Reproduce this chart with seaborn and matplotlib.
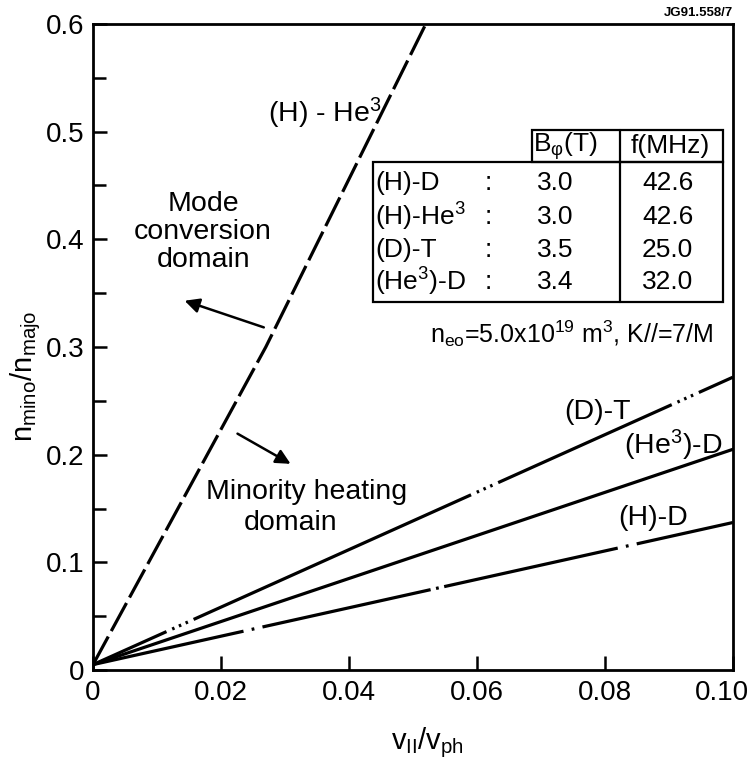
import matplotlib
matplotlib.use("Agg")
import matplotlib.pyplot as plt
import matplotlib.transforms as mtransforms
import numpy as np
import pandas as pd
import seaborn as sns
from matplotlib.patches import Rectangle, FancyArrowPatch
from matplotlib.lines import Line2D

# ---------------- data ----------------
he3_x = [0.0, 0.027, 0.052]
he3_y = [0.005, 0.300, 0.600]
lin_x = [0.0, 0.10]
dt_y = [0.005, 0.272]
he3d_y = [0.005, 0.205]
hd_y = [0.005, 0.137]

x_ticks = [0.0, 0.02, 0.04, 0.06, 0.08, 0.10]
x_tick_labels = ["0", "0.02", "0.04", "0.06", "0.08", "0.10"]
y_ticks = [0.0, 0.1, 0.2, 0.3, 0.4, 0.5, 0.6]
y_tick_labels = ["0", "0.1", "0.2", "0.3", "0.4", "0.5", "0.6"]
y_minor = [0.05, 0.15, 0.25, 0.35, 0.45, 0.55]

table_species = ["(H)-D", "(H)-He$^3$", "(D)-T", "(He$^3$)-D"]
table_B = ["3.0", "3.0", "3.5", "3.4"]
table_f = ["42.6", "42.6", "25.0", "32.0"]

# ---------------- style ----------------
sns.set_theme(style="ticks")
plt.rcParams["font.family"] = ["Liberation Sans", "DejaVu Sans"]
plt.rcParams["mathtext.default"] = "regular"
plt.rcParams["lines.scale_dashes"] = False
plt.rcParams["axes.linewidth"] = 2.0
plt.rcParams["text.color"] = "black"
plt.rcParams["axes.labelcolor"] = "black"
plt.rcParams["xtick.color"] = "black"
plt.rcParams["ytick.color"] = "black"
plt.rcParams["axes.edgecolor"] = "black"

fig = plt.figure(figsize=(7.56, 7.65), dpi=100)
fig.patch.set_facecolor("white")
ax = fig.add_axes([93 / 756, 1 - 670 / 765, 640 / 756, 646 / 765])
ax.set_facecolor("white")

DOTS = [4.5, 1.8, 3.5, 1.8, 3.5, 1.8, 4.5]
dt_dash = [58] + DOTS + [219] + DOTS + [137] + DOTS + [300, 1]
hd_dash = [111, 6, 2, 6, 124, 4, 2, 4, 128, 6, 2, 6, 300, 1]

LW = 2.3
series = [
    (he3_x, he3_y, (0, (23, 4.5))),
    (lin_x, dt_y, (0, tuple(dt_dash))),
    (lin_x, he3d_y, "solid"),
    (lin_x, hd_y, (0, tuple(hd_dash))),
]
for xs, ys, ls in series:
    sns.lineplot(x=xs, y=ys, ax=ax, color="black", linewidth=LW,
                 estimator=None, sort=False)
    line = ax.lines[-1]
    line.set_linestyle(ls)
    line.set_dash_capstyle("butt")

ax.set_xlim(0, 0.10)
ax.set_ylim(0, 0.6)
ax.set_xticks(x_ticks)
ax.set_xticklabels(x_tick_labels)
ax.set_yticks(y_ticks)
ax.set_yticklabels(y_tick_labels)
ax.set_yticks(y_minor, minor=True)
ax.tick_params(axis="both", which="both", direction="in", width=1.8,
               labelsize=20, colors="black")
ax.tick_params(axis="both", which="major", length=10)
ax.tick_params(axis="y", which="minor", length=9)
ax.tick_params(axis="x", which="major", pad=7)
ax.tick_params(axis="y", which="major", pad=6)
for s in ax.spines.values():
    s.set_linewidth(2.0)
    s.set_color("black")
    s.set_visible(True)

# shift last x tick label a bit left so it stays inside the figure
last = ax.get_xticklabels()[-1]
last.set_transform(last.get_transform() +
                   mtransforms.ScaledTranslation(-11 / 100, 0, fig.dpi_scale_trans))

ax.set_xlabel("v$_{II}$/v$_{ph}$", fontsize=21, color="black")
ax.set_ylabel("n$_{mino}$/n$_{majo}$", fontsize=21, color="black")
ax.xaxis.set_label_coords(0.523, -0.085)
ax.yaxis.set_label_coords(-0.078, 0.455)

T = ax.transAxes
fs = 20.5
kw = dict(transform=T, color="black", va="center")
ax.text(0.3625, 0.862, "(H) - He$^3$", fontsize=fs, ha="center", **kw)
ax.text(0.172, 0.678, "Mode\nconversion\ndomain", fontsize=fs,
        ha="center", linespacing=1.1, **kw)
ax.text(0.334, 0.276, "Minority heating", fontsize=fs, ha="center", **kw)
ax.text(0.309, 0.228, "domain", fontsize=fs, ha="center", **kw)
ax.text(0.789, 0.399, "(D)-T", fontsize=fs, ha="center", **kw)
ax.text(0.906, 0.348, "(He$^3$)-D", fontsize=fs, ha="center", **kw)
ax.text(0.875, 0.235, "(H)-D", fontsize=fs, ha="center", **kw)

for tail, head in [((0.271, 0.529), (0.139, 0.573)), ((0.222, 0.368), (0.3125, 0.317))]:
    ax.add_patch(FancyArrowPatch(tail, head, transform=T, arrowstyle="-|>",
                                 mutation_scale=22, color="black", lw=1.8))

# table
tfs = 19
ax.add_patch(Rectangle((0.4375, 0.570), 0.984 - 0.4375, 0.786 - 0.570, transform=T,
                       fill=False, lw=1.6, ec="black"))
ax.add_patch(Rectangle((0.686, 0.786), 0.984 - 0.686, 0.836 - 0.786, transform=T,
                       fill=False, lw=1.6, ec="black"))
ax.add_line(Line2D([0.823, 0.823], [0.570, 0.836], transform=T, lw=1.6, color="black"))
ax.text(0.7375, 0.811, "B$_{φ}$(T)", fontsize=tfs, ha="center", **kw)
ax.text(0.902, 0.811, "f(MHz)", fontsize=tfs, ha="center", **kw)
row_y = [0.754, 0.701, 0.650, 0.601]
for yy, sp, b, f in zip(row_y, table_species, table_B, table_f):
    ax.text(0.441, yy, sp, fontsize=tfs, ha="left", **kw)
    ax.text(0.617, yy, ":", fontsize=tfs, ha="center", **kw)
    ax.text(0.722, yy, b, fontsize=tfs, ha="center", **kw)
    ax.text(0.898, yy, f, fontsize=tfs, ha="center", **kw)

ax.text(0.748, 0.521, "n$_{eo}$=5.0x10$^{19}$ m$^3$, K//=7/M", fontsize=18,
        ha="center", **kw)

fig.text(733 / 756, 1 - 13 / 765, "JG91.558/7", fontsize=9.5, fontweight="bold",
         ha="right", va="center", color="black")

fig.savefig("out.png", dpi=100, facecolor="white")
